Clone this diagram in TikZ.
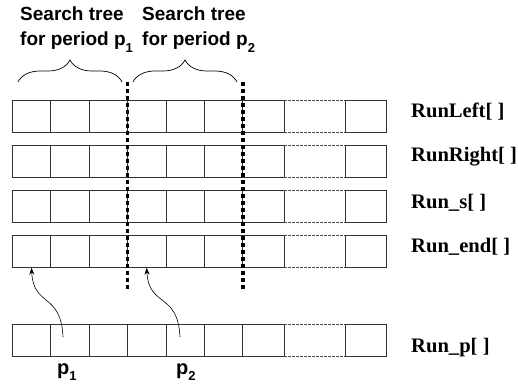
\documentclass[tikz,border=0pt]{standalone}
\usepackage{fontspec}
\setmainfont{Liberation Serif}
\newfontfamily\arialf{Liberation Sans}
\usetikzlibrary{decorations.pathreplacing,arrows.meta}
\newcommand{\subdig}[1]{\raisebox{-0.32em}{\fontsize{13}{13}\selectfont #1}}
\tikzset{
  cell/.style={draw=black!80, line width=0.8pt, minimum height=32.7pt, inner sep=0pt, outer sep=0pt, anchor=north west},
  gapline/.style={draw=black!70, line width=0.6pt, dash pattern=on 2.5pt off 1.5pt},
  sepline/.style={draw=black, line width=3.6pt, dash pattern=on 3.6pt off 3.4pt},
  bracepath/.style={draw=black, line width=0.7pt, decorate, decoration={brace, amplitude=22pt, aspect=0.5}},
  toplabel/.style={font=\arialf\bfseries\fontsize{19}{21}\selectfont, anchor=base west, inner sep=0pt},
  plabel/.style={font=\arialf\bfseries\fontsize{20}{22}\selectfont, anchor=base west, inner sep=0pt},
  rowlabel/.style={font=\bfseries\fontsize{20.6}{22}\selectfont, anchor=base west, inner sep=0pt},
  ptr/.style={draw=black, line width=0.6pt, -{Stealth[length=7pt,width=5pt]}}
}
\begin{document}
\begin{tikzpicture}[x=1pt,y=-1pt]
\useasboundingbox (0,0) rectangle (518,387);
% cells
\foreach \r/\t in {1/100,2/145,3/190,4/235,5/324} {
  \foreach \c/\xl/\w in {1/12.3/38.4, 2/50.7/38.4, 3/89.1/38.4, 4/127.5/38.4, 5/165.9/38.4, 6/204.3/38.4, 7/242.7/41.3, 9/345/41.7}
    \node[cell, minimum width=\w pt] (r\r-\c) at (\xl,\t) {};
  \draw[gapline] (r\r-7.north east) -- (r\r-9.north west)
                 (r\r-7.south east) -- (r\r-9.south west);
}
% separators
\coordinate (s1t) at (127.5,82);
\coordinate (s1b) at (127.5,289);
\coordinate (s2t) at (242.7,82);
\coordinate (s2b) at (242.7,289);
\draw[sepline] (s1t) -- (s1b);
\draw[sepline] (s2t) -- (s2b);
% braces
\coordinate (b1l) at (18,82);
\coordinate (b1r) at (122,82);
\coordinate (b2l) at (133,82);
\coordinate (b2r) at (237,82);
\draw[bracepath] (b1l) -- (b1r);
\draw[bracepath] (b2l) -- (b2r);
% top text
\node[toplabel] (t1a) at (20,21) {Search tree};
\node[toplabel] (t1b) at (20,46) {for period p\subdig{1}};
\node[toplabel] (t2a) at (142,21) {Search tree};
\node[toplabel] (t2b) at (142,46) {for period p\subdig{2}};
% row labels
\node[rowlabel] (l1) at (411,118) {RunLeft[ ]};
\node[rowlabel] (l2) at (411,162) {RunRight[ ]};
\node[rowlabel] (l3) at (411,208) {Run\_s[ ]};
\node[rowlabel] (l4) at (411,252) {Run\_end[ ]};
\node[rowlabel] (l5) at (411,352) {Run\_p[ ]};
% p labels
\node[plabel] (p1) at (57,374) {p\subdig{1}};
\node[plabel] (p2) at (176,374) {p\subdig{2}};
% pointers
\coordinate (a1) at (63,337);
\coordinate (a2) at (180,337);
\draw[ptr] (a1) .. controls ++(-2,-45) and ++(2,40) .. (r4-1.south);
\draw[ptr] (a2) .. controls ++(-2,-45) and ++(2,40) .. (r4-4.south);
\end{tikzpicture}
\end{document}
